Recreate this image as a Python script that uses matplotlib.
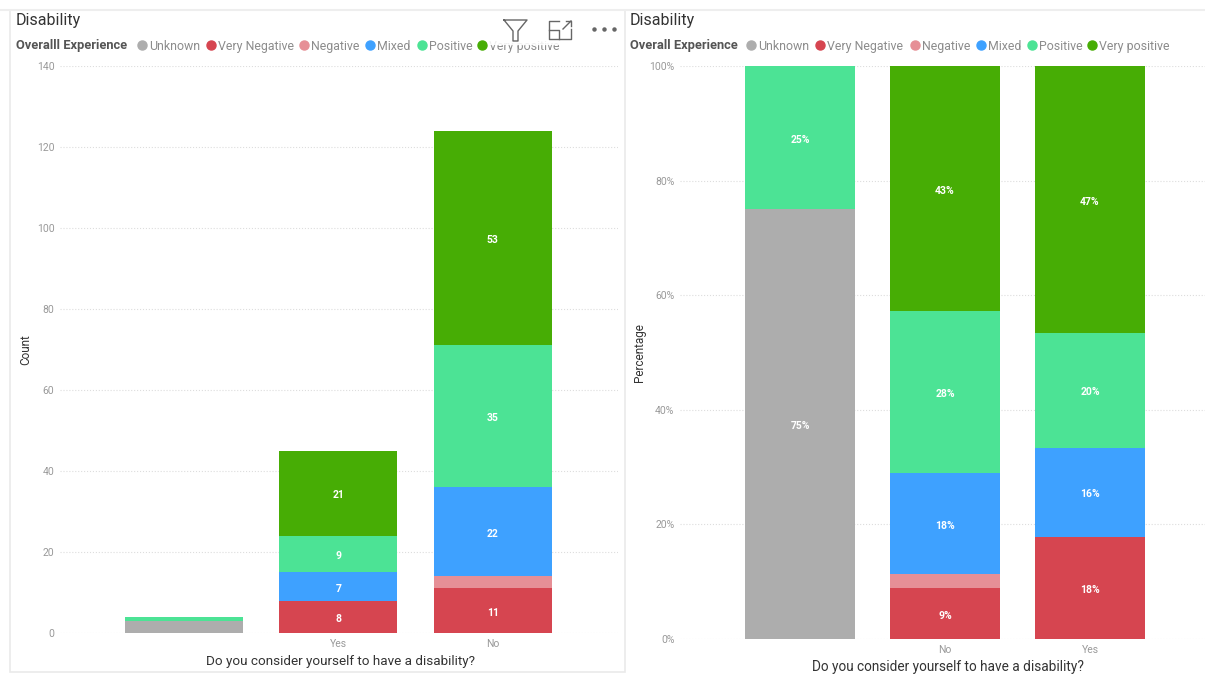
import matplotlib
matplotlib.use("Agg")
import matplotlib.pyplot as plt
from matplotlib.lines import Line2D
from matplotlib.patches import Rectangle

W, H = 1205, 674
plt.rcParams['font.family'] = ['Roboto', 'DejaVu Sans']

SERIES = ['Unknown', 'Very Negative', 'Negative', 'Mixed', 'Positive', 'Very positive']
COLORS = ['#ADADAD', '#D64550', '#E68F96', '#3EA1FF', '#4CE395', '#47AD05']

# left chart: counts
count_cats = ['', 'Yes', 'No']
count_unknown = [3, 0, 0]
count_very_neg = [0, 8, 11]
count_neg = [0, 0, 3]
count_mixed = [0, 7, 22]
count_pos = [1, 9, 35]
count_very_pos = [0, 21, 53]
count_labels = [
    ['', '', ''],
    ['', '8', '11'],
    ['', '', ''],
    ['', '7', '22'],
    ['', '9', '35'],
    ['', '21', '53'],
]
count_ticks = [0, 20, 40, 60, 80, 100, 120, 140]

# right chart: share of each answer, in percent
pct_cats = ['', 'No', 'Yes']
pct_unknown = [75, 0, 0]
pct_very_neg = [0, 8.9, 17.8]
pct_neg = [0, 2.4, 0]
pct_mixed = [0, 17.7, 15.6]
pct_pos = [25, 28.2, 20]
pct_very_pos = [0, 42.8, 46.6]
pct_labels = [
    ['75%', '', ''],
    ['', '9%', '18%'],
    ['', '', ''],
    ['', '18%', '16%'],
    ['25%', '28%', '20%'],
    ['', '43%', '47%'],
]
pct_ticks = [0, 20, 40, 60, 80, 100]


def px_axes(fig, left, right, top, bottom):
    return fig.add_axes([left / W, 1 - bottom / H, (right - left) / W, (bottom - top) / H])


def stacked(ax, cats, series, labels, width):
    bottom = [0] * len(cats)
    for i, values in enumerate(series):
        ax.bar(range(len(cats)), values, width, bottom=bottom, color=COLORS[i], zorder=2)
        for j, value in enumerate(values):
            if labels[i][j]:
                ax.annotate(labels[i][j], (j, bottom[j] + value / 2), xytext=(0, -1.5),
                            textcoords='offset points', color='white', fontsize=7.5,
                            fontweight='bold', ha='center', va='center', zorder=3)
        bottom = [b + v for b, v in zip(bottom, values)]


def style_axes(ax, cats, ticks, ymax, xlim, ylabel, tick_fmt):
    ax.set_xlim(*xlim)
    ax.set_ylim(0, ymax)
    ax.set_xticks(range(len(cats)))
    ax.set_xticklabels(cats, fontsize=7.5, color='#999999')
    ax.set_yticks(ticks)
    ax.set_yticklabels([tick_fmt.format(t) for t in ticks], fontsize=7.5, color='#999999')
    ax.tick_params(length=0, pad=4)
    ax.grid(axis='y', color='#dddddd', linestyle=':', linewidth=0.8, zorder=0)
    ax.set_axisbelow(True)
    ax.patch.set_alpha(0)
    for spine in ax.spines.values():
        spine.set_visible(False)
    ax.set_ylabel(ylabel, fontsize=8.5, color='#333333')


def legend_row(fig, title, title_x, positions, y):
    fig.text(title_x / W, 1 - y / H, title, fontsize=9.3, fontweight='bold', color='#555555', va='center')
    for i, name in enumerate(SERIES):
        x = positions[i]
        fig.add_artist(Line2D([x / W], [1 - y / H], marker='o', markersize=6.5, color=COLORS[i], linestyle=''))
        fig.text((x + 7) / W, 1 - y / H, name, fontsize=8.9, color='#8c8c8c', va='center_baseline')


fig = plt.figure(figsize=(W / 100, H / 100), dpi=100, facecolor='white')

# panel frames
fig.add_artist(Rectangle((10 / W, 1 - 672 / H), 615 / W, 662 / H, fill=False, edgecolor='#eaeaea', linewidth=1.2))
fig.add_artist(Line2D([0, 1], [1 - 10 / H, 1 - 10 / H], color='#eeeeee', linewidth=1.5))

ax1 = px_axes(fig, 60, 618, 66, 633)
stacked(ax1, count_cats,
        [count_unknown, count_very_neg, count_neg, count_mixed, count_pos, count_very_pos],
        count_labels, 0.764)
style_axes(ax1, count_cats, count_ticks, 140, (-0.803, 2.81), 'Count', '{}')
ax1.yaxis.set_label_coords((32 - 60) / 558, 0.5)

ax2 = px_axes(fig, 680, 1205, 66, 639)
stacked(ax2, pct_cats,
        [pct_unknown, pct_very_neg, pct_neg, pct_mixed, pct_pos, pct_very_pos],
        pct_labels, 0.759)
style_axes(ax2, pct_cats, pct_ticks, 100, (-0.828, 2.793), 'Percentage', '{}%')
ax2.yaxis.set_label_coords((646 - 680) / 525, 0.5)

fig.text(16 / W, 1 - 20 / H, 'Disability', fontsize=11.5, color='#333333', va='center')
fig.text(630 / W, 1 - 20 / H, 'Disability', fontsize=11.5, color='#333333', va='center')
fig.text(341 / W, 1 - 661 / H, 'Do you consider yourself to have a disability?', fontsize=9.7,
         color='#333333', ha='center', va='center')
fig.text(948 / W, 1 - 667 / H, 'Do you consider yourself to have a disability?', fontsize=9.8,
         color='#333333', ha='center', va='center')

legend_row(fig, 'Overalll Experience', 16, [142, 211, 304, 370, 422, 482], 45)
legend_row(fig, 'Overall Experience', 630, [751, 820, 915, 981, 1032, 1092], 45)

# hover icons of the left visual, they hide part of its legend
fig.add_artist(Rectangle((488 / W, 1 - 44 / H), 75 / W, 8 / H, color='white', alpha=0.85, zorder=5))
icon = dict(color='#666666', linewidth=1, zorder=6)
fig.add_artist(Line2D([504 / W, 527 / W, 518 / W, 518 / W, 513 / W, 513 / W, 504 / W],
                      [1 - 20 / H, 1 - 20 / H, 1 - 31 / H, 1 - 41 / H, 1 - 41 / H, 1 - 31 / H, 1 - 20 / H],
                      **icon))
fig.add_artist(Line2D([559 / W, 549 / W, 549 / W, 571 / W, 571 / W],
                      [1 - 21 / H, 1 - 21 / H, 1 - 39 / H, 1 - 39 / H, 1 - 29 / H], **icon))
fig.add_artist(Line2D([549 / W, 559 / W, 559 / W], [1 - 30 / H, 1 - 30 / H, 1 - 39 / H], **icon))
fig.add_artist(Line2D([563 / W, 571 / W], [1 - 29 / H, 1 - 21 / H], **icon))
fig.add_artist(Line2D([566 / W, 571 / W, 571 / W], [1 - 21 / H, 1 - 21 / H, 1 - 26 / H], **icon))
for dot_x in [594, 604, 614]:
    fig.add_artist(Line2D([dot_x / W], [1 - 29 / H], marker='o', markersize=2.2, color='#666666',
                          linestyle='', zorder=6))

fig.savefig('out.png', dpi=100)
